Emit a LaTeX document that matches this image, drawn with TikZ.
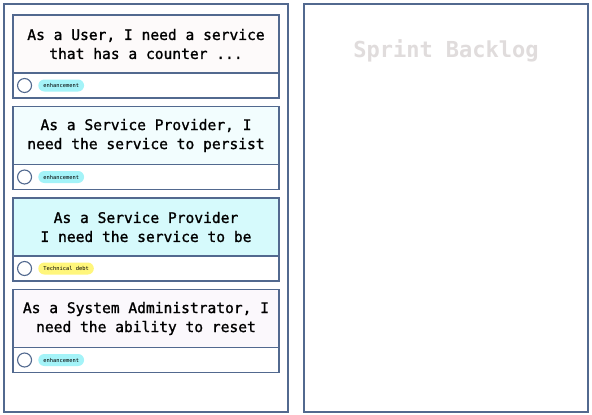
\documentclass[tikz,border=0pt]{standalone}
\usepackage{fontspec}
\setmonofont{DejaVu Sans Mono}
\newfontfamily\cardfont[FakeBold=1.2]{DejaVu Sans Mono}
\usepackage{xcolor}
\usetikzlibrary{positioning}

\definecolor{edge}{HTML}{52698F}
\definecolor{tagcyan}{HTML}{A4F3F8}
\definecolor{tagyellow}{HTML}{FFF67C}
\definecolor{ghost}{HTML}{E0DCDC}

\begin{document}
\begin{tikzpicture}[
    x=1pt, y=-1pt,
    panel/.style={rectangle, draw=edge, line width=1.1pt, fill=white, minimum width=284pt, minimum height=408pt, outer sep=0pt},
    story/.style={rectangle, draw=edge, line width=1.2pt, minimum width=266pt, minimum height=58pt, outer sep=0pt, align=center, font=\cardfont\fontsize{14.6}{19}\selectfont},
    foot/.style={rectangle, draw=edge, line width=1.2pt, fill=white, minimum width=266pt, minimum height=25pt, outer sep=0pt},
    ring/.style={circle, draw=edge, line width=1.1pt, minimum size=14pt, inner sep=0pt},
    tag/.style={rectangle, rounded corners=6pt, minimum height=12pt, inner xsep=5pt, inner ysep=0pt, font=\ttfamily\fontsize{5.4}{6}\selectfont}
]
    \useasboundingbox (0,0) rectangle (592,415);

    % Panels
    \node[panel] (product) at (146,208) {};
    \node[panel] (sprint) at (446,208) {};
    \node[below=32pt of sprint.north, text=ghost, font=\ttfamily\bfseries\fontsize{22}{26}\selectfont] (title) {Sprint Backlog};

    % Stories
    \node[story, fill={rgb,255:red,253;green,250;blue,250}] (s1) at (146,44) {As a User, I need a service\\that has a counter ...};
    \node[foot, below=0pt of s1] (f1) {};
    \node[ring, right=4pt of f1.west] (c1) {};
    \node[tag, fill=tagcyan, right=6pt of c1] (t1) {enhancement};

    \node[story, fill={rgb,255:red,242;green,253;blue,254}] (s2) at (146,135.5) {As a Service Provider, I\\need the service to persist};
    \node[foot, below=0pt of s2] (f2) {};
    \node[ring, right=4pt of f2.west] (c2) {};
    \node[tag, fill=tagcyan, right=6pt of c2] (t2) {enhancement};

    \node[story, fill={rgb,255:red,214;green,250;blue,252}] (s3) at (146,227) {As a Service Provider\\I need the service to be};
    \node[foot, below=0pt of s3] (f3) {};
    \node[ring, right=4pt of f3.west] (c3) {};
    \node[tag, fill=tagyellow, right=6pt of c3] (t3) {Technical debt};

    \node[story, fill={rgb,255:red,251;green,248;blue,252}] (s4) at (146,318.5) {As a System Administrator, I\\need the ability to reset};
    \node[foot, below=0pt of s4] (f4) {};
    \node[ring, right=4pt of f4.west] (c4) {};
    \node[tag, fill=tagcyan, right=6pt of c4] (t4) {enhancement};
\end{tikzpicture}
\end{document}
